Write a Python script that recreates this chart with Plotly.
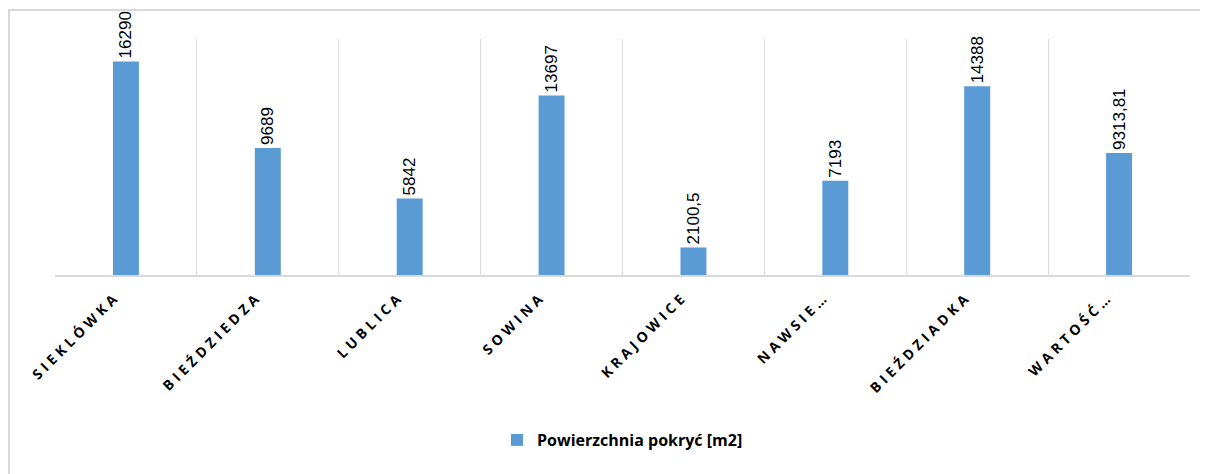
import plotly.graph_objects as go

categories = ["SIEKLÓWKA", "BIEŹDZIEDZA", "LUBLICA", "SOWINA", "KRAJOWICE",
              "NAWSIE…", "BIEŹDZIADKA", "WARTOŚĆ…"]
values = [16290, 9689, 5842, 13697, 2100.5, 7193, 14388, 9313.81]
series_name = "Powierzchnia pokryć [m2]"


def fmt(v):
    s = ("%g" % v)
    return s.replace(".", ",")


labels = [fmt(v) for v in values]

fig = go.Figure()
fig.add_trace(go.Bar(
    x=categories, y=values, name=series_name,
    marker=dict(color="#5B9BD5", line=dict(width=0)),
    text=labels, textposition="outside", textangle=-90,
    constraintext="none",
    textfont=dict(family="Liberation Sans, Arial", size=17, color="#000000"),
    cliponaxis=False, showlegend=True,
))

# page body has an 8px margin, so the figure is drawn offset by (8, 8)
OFF = 8
W, H = 1208 - OFF, 474 - OFF
L, R, T = 55 - OFF, 18, 39 - OFF
B = H - (275 - OFF)
pw, ph = W - L - R, H - T - B


def px_x(x):
    return (x - OFF - L) / pw


def px_y(y):
    return (H - B - (y - OFF)) / ph


fig.update_layout(
    width=W, height=H,
    margin=dict(l=L, r=R, t=T, b=B, pad=0, autoexpand=False),
    paper_bgcolor="white", plot_bgcolor="white",
    bargap=0.817,
    showlegend=True,
    legend=dict(orientation="h", x=0.5, xanchor="center",
                y=px_y(440), yanchor="middle",
                font=dict(family="Open Sans, Liberation Sans", size=16, color="#000000", weight=700)),
    xaxis=dict(type="category", tickson="boundaries", showgrid=True, automargin=False,
               gridcolor="#d9d9d9", gridwidth=1, ticks="", tickangle=-45,
               ticklabelshift=-10, ticklabelstandoff=6,
               showline=True, linecolor="#d9d9d9", linewidth=2,
               tickfont=dict(family="Open Sans, Liberation Sans", size=14,
                             color="#000000", weight=700)),
    yaxis=dict(range=[0, 18000], visible=False, showgrid=False, zeroline=False,
               automargin=False),
    shapes=[dict(type="rect", xref="paper", yref="paper",
                 x0=px_x(9), x1=1.2, y0=-1.5, y1=px_y(10),
                 line=dict(color="#d9d9d9", width=2), fillcolor="rgba(0,0,0,0)",
                 layer="below")],
)

post = """
document.querySelectorAll('.xtick text').forEach(function(t){t.style.letterSpacing='4px';});
"""
fig.write_html("out.html", post_script=post)
